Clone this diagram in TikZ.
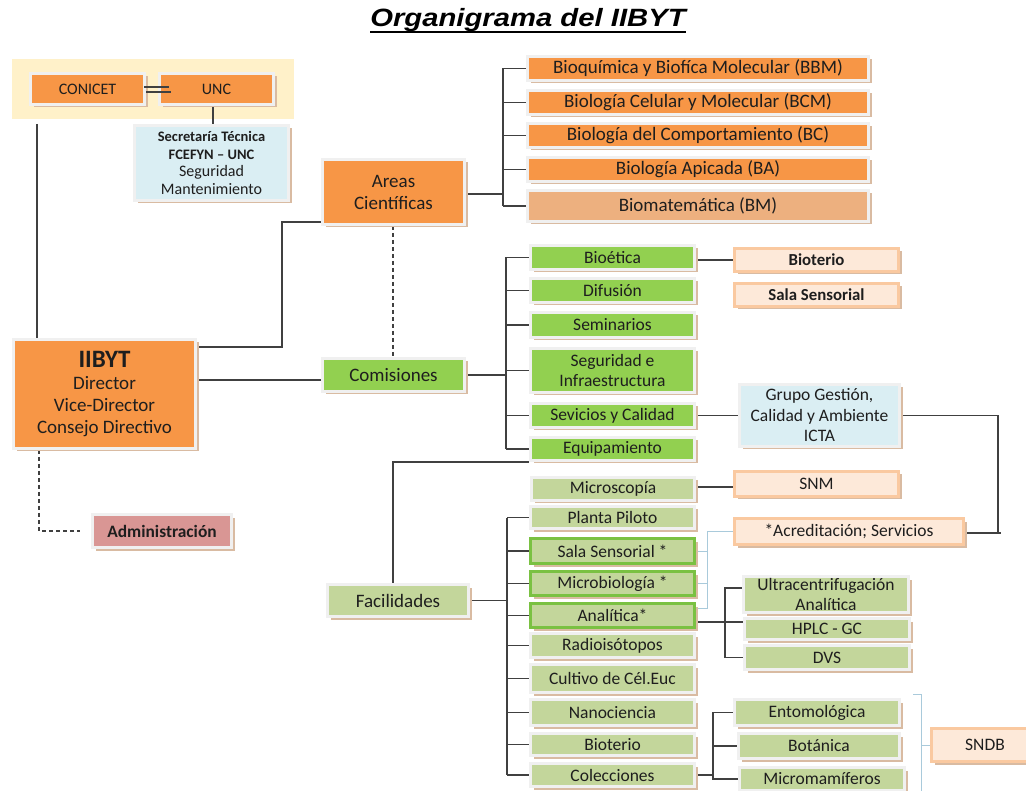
\documentclass[tikz,border=0pt]{standalone}
\usepackage{fontspec}
\setmainfont{Carlito}
\newfontfamily\titlefont[FakeStretch=1.17]{Liberation Sans}
\usetikzlibrary{shadows,backgrounds}
\definecolor{orangeA}{HTML}{F79646}
\definecolor{orangeB}{HTML}{EDB07F}
\definecolor{greenA}{HTML}{92D050}
\definecolor{greenB}{HTML}{C3D69B}
\definecolor{greenEdge}{HTML}{7AC142}
\definecolor{peach}{HTML}{FDE9D9}
\definecolor{peachEdge}{HTML}{FAC9A0}
\definecolor{blueA}{HTML}{DAEEF3}
\definecolor{roseA}{HTML}{D99694}
\definecolor{bgyellow}{HTML}{FFF1C9}
\definecolor{edgegray}{HTML}{F0F0F0}
\definecolor{shadowtan}{HTML}{D9BBA2}
\definecolor{linegray}{HTML}{404040}
\definecolor{thinblue}{HTML}{A9CADB}
\definecolor{txt}{HTML}{1E1E1E}
\newcommand{\fmainx}{\fontsize{19}{22}\selectfont}
\newcommand{\fsubx}{\fontsize{17.5}{20.5}\selectfont}
\newcommand{\bx}[7]{\node[#2, minimum width={#5-#3-3}, minimum height={#6-#4-3}] (#1) at ({(#3+#5)/2},{(#4+#6)/2}) {#7};}
\tikzset{
  box/.style={rectangle, draw=edgegray, line width=3pt, inner sep=0pt, align=center, text=txt,
    general shadow={fill=shadowtan, shadow xshift=3pt, shadow yshift=-3pt}, font=\fsubx},
  orangebox/.style={box, fill=orangeA, font=\fmainx},
  greenbox/.style={box, fill=greenA},
  lgreenbox/.style={box, fill=greenB},
  hlbox/.style={box, fill=greenB, draw=greenEdge},
  peachbox/.style={box, fill=peach, draw=peachEdge},
  bluebox/.style={box, fill=blueA},
  rosebox/.style={box, fill=roseA},
  conn/.style={draw=linegray, line width=1.1pt},
  thinconn/.style={draw=thinblue, line width=0.9pt},
  dashpat/.style={dash pattern=on 4pt off 3pt}
}
\begin{document}
\begin{tikzpicture}[x=1pt,y=-1pt]
\useasboundingbox (0,0) rectangle (1026,791);
\begin{pgfonlayer}{background}
\fill[white] (0,0) rectangle (1026,791);
\fill[bgyellow] (12,59) rectangle (294,119);
\end{pgfonlayer}

% title
\node[font=\titlefont\fontsize{25}{28}\selectfont\bfseries\itshape, anchor=base, inner sep=0pt] (title) at (528,27) {Organigrama del IIBYT};
\draw[line width=1.7pt] ([yshift=-5pt]title.base west) -- ([yshift=-5pt]title.base east);

% top
\bx{conicet}{orangebox, font=\fontsize{16}{18}\selectfont}{29}{72}{146}{106}{CONICET}
\bx{unc}{orangebox, font=\fontsize{16}{18}\selectfont}{158}{72}{275}{106}{UNC}
\bx{secre}{bluebox, font=\fontsize{16}{17.5}\selectfont}{133}{124}{290}{202}{{\bfseries\fontsize{14.5}{17.5}\selectfont Secretaría Técnica}\\{\bfseries\fontsize{14.5}{17.5}\selectfont FCEFYN – UNC}\\Seguridad\\Mantenimiento}

% areas
\bx{areas}{orangebox}{321}{158}{466}{226}{Areas\\Científicas}
\bx{bbm}{orangebox}{526}{55}{870}{82}{Bioquímica y Biofíca Molecular (BBM)}
\bx{bcm}{orangebox}{526}{89}{870}{116}{Biología Celular y Molecular (BCM)}
\bx{bc}{orangebox}{526}{122}{870}{149}{Biología del Comportamiento (BC)}
\bx{ba}{orangebox}{526}{156}{870}{183}{Biología Apicada (BA)}
\bx{bm}{orangebox, fill=orangeB}{526}{189}{870}{223}{Biomatemática (BM)}

% director
\bx{iibyt}{orangebox}{12}{338}{197}{450}{{\bfseries\fontsize{25}{26}\selectfont IIBYT}\\Director\\Vice-Director\\Consejo Directivo}
\bx{comis}{greenbox, font=\fmainx}{321}{357}{466}{393}{Comisiones}
\bx{admin}{rosebox, font=\fontsize{17.4}{20}\selectfont\bfseries}{91}{513}{233}{549}{Administración}

% comisiones
\bx{bioetica}{greenbox}{529}{244}{696}{271}{Bioética}
\bx{difusion}{greenbox}{529}{277}{696}{304}{Difusión}
\bx{semin}{greenbox}{529}{311}{696}{339}{Seminarios}
\bx{segur}{greenbox}{529}{347}{696}{394}{Seguridad e\\Infraestructura}
\bx{sevic}{greenbox}{529}{402}{696}{429}{Sevicios y Calidad}
\bx{equip}{greenbox}{529}{436}{696}{462}{Equipamiento}
\bx{bioterioB}{peachbox, font=\fontsize{16.8}{20}\selectfont\bfseries}{733}{247}{900}{273}{Bioterio}
\bx{salaB}{peachbox, font=\fontsize{16.8}{20}\selectfont\bfseries}{733}{282}{900}{308}{Sala Sensorial}
\bx{grupo}{bluebox}{738}{383}{901}{448}{Grupo Gestión,\\Calidad y Ambiente\\ICTA}

% facilidades
\bx{facil}{lgreenbox, font=\fmainx}{326}{583}{470}{618}{Facilidades}
\bx{micro}{lgreenbox}{530}{476}{696}{502}{Microscopía}
\bx{planta}{lgreenbox}{529}{505}{696}{530}{Planta Piloto}
\bx{sala}{hlbox}{529}{537}{696}{565}{Sala Sensorial *}
\bx{microb}{hlbox}{529}{570}{696}{597}{Microbiología *}
\bx{anal}{hlbox}{529}{602}{696}{629}{Analítica*}
\bx{radio}{lgreenbox}{529}{632}{696}{659}{Radioisótopos}
\bx{cultivo}{lgreenbox}{529}{663}{696}{694}{Cultivo de Cél.Euc}
\bx{nano}{lgreenbox}{529}{698}{696}{727}{Nanociencia}
\bx{bioterio}{lgreenbox}{529}{732}{696}{757}{Bioterio}
\bx{colec}{lgreenbox}{529}{762}{696}{788}{Colecciones}
\bx{snm}{peachbox}{733}{470}{900}{498}{SNM}
\bx{acred}{peachbox}{733}{517}{965}{546}{*Acreditación; Servicios}
\bx{ultra}{lgreenbox}{742}{575}{910}{614}{Ultracentrifugación\\Analítica}
\bx{hplc}{lgreenbox}{743}{617}{911}{641}{HPLC - GC}
\bx{dvs}{lgreenbox}{743}{644}{911}{671}{DVS}
\bx{ento}{lgreenbox}{733}{698}{901}{727}{Entomológica}
\bx{bota}{lgreenbox}{737}{732}{901}{760}{Botánica}
\bx{micromam}{lgreenbox}{738}{766}{906}{792}{Micromamíferos}
\bx{sndb}{peachbox}{930}{727}{1040}{763}{SNDB}

% double link CONICET - UNC
\draw[conn] (conicet.east) ++(-2,-2) -- ++(25,0);
\draw[conn] (conicet.east) ++(0,3) -- ++(25,0);

\begin{pgfonlayer}{background}
\draw[conn] (unc.south -| 213,0) -- (secre.north -| 213,0);
\coordinate (topfree) at (37,124);
\draw[conn] (topfree) -- (topfree |- iibyt.north);
\draw[conn] (areas.west |- 0,222) -| (282,347) -- (iibyt.east |- 0,347);
\draw[conn, dashpat] (areas.south -| 393,0) -- (comis.north -| 393,0);
\draw[conn] (iibyt.east |- 0,380) -- (comis.west |- 0,380);
\draw[conn, dashpat] (iibyt.south -| 39,0) |- ([xshift=-11pt]admin.west);
% areas bracket
\coordinate (sA) at (503,0);
\draw[conn] (areas.east |- 0,194) -- (sA |- 0,194);
\draw[conn] (bbm.west -| sA) -- (bm.west -| sA);
\foreach \n in {bbm,bcm,bc,ba,bm} \draw[conn] (\n.west -| sA) -- (\n.west);
% comisiones bracket
\coordinate (sC) at (506,0);
\draw[conn] (comis.east) -- (comis.east -| sC);
\draw[conn] (bioetica.west -| sC) -- (equip.west -| sC);
\foreach \n in {bioetica,difusion,semin,segur,sevic,equip} \draw[conn] (\n.west -| sC) -- (\n.west);
\draw[conn] (bioetica.east |- bioterioB.west) -- (bioterioB.west);
\draw[conn] (sevic.east) -- (sevic.east -| grupo.west);
\coordinate (rj) at (998,533);
\draw[conn] (grupo.east) -| (rj);
\draw[conn] (acred.east |- rj) -- ([xshift=3pt]rj);
% equipamiento to facilidades
\draw[conn] (equip.south west) -| (facil.north -| 393,0);
% facilidades bracket
\coordinate (sF) at (507,0);
\draw[conn] (facil.east) -- (facil.east -| sF);
\draw[conn] (planta.west -| sF) -- (colec.west -| sF);
\foreach \n in {planta,sala,microb,anal,radio,cultivo,nano,bioterio,colec} \draw[conn] (\n.west -| sF) -- (\n.west);
\draw[conn] (micro.east |- 0,487) -- (snm.west |- 0,487);
% thin bracket to acreditacion
\coordinate (bj) at (707,608);
\draw[thinconn] (acred.west) -| (bj) -- (bj -| anal.east);
\draw[thinconn] (sala.east) -- (sala.east -| bj);
\draw[thinconn] (microb.east) -- (microb.east -| bj);
% analitica bracket
\coordinate (cj) at (725,622);
\draw[conn] (anal.east |- cj) -- (hplc.west |- cj);
\draw[conn] (ultra.west |- 0,588) -| (cj) |- (dvs.west);
% colecciones bracket
\coordinate (dj) at (713,775);
\draw[conn] (colec.east) -- (dj);
\draw[conn] (ento.west) -| (dj) |- (micromam.west);
\draw[conn] (bota.west) -- (bota.west -| dj);
% SNDB brace
\coordinate (br1) at (913,694);
\coordinate (br2) at (921,694);
\coordinate (br3) at (921,795);
\draw[thinconn] (br1) -- (br2) -- (br3);
\draw[thinconn] ([xshift=-8pt]sndb.west) -- (sndb.west);
\end{pgfonlayer}
\end{tikzpicture}
\end{document}
